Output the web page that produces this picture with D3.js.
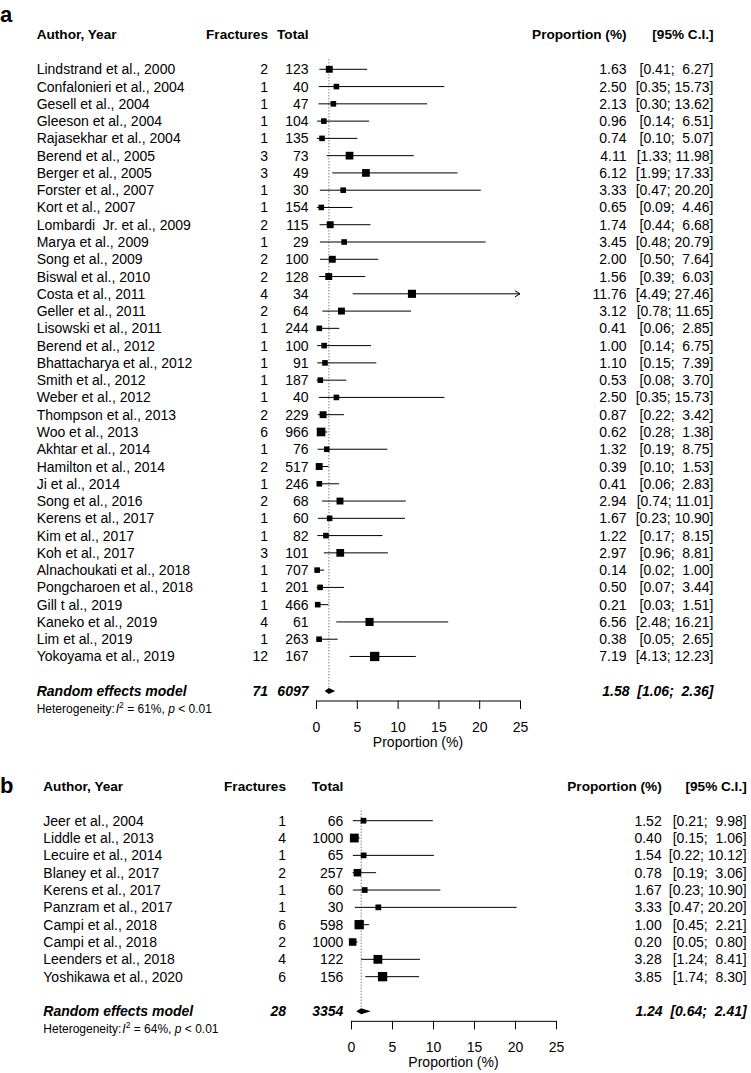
<!DOCTYPE html>
<html>
<head>
<meta charset="utf-8">
<script src="https://cdn.jsdelivr.net/npm/d3@7"></script>
<style>
  html, body { margin: 0; padding: 0; background: #fff; }
  svg { display: block; }
  text { font-family: "Liberation Sans", Arial, Helvetica, sans-serif; fill: #000; }
  .pre { white-space: pre; }
</style>
</head>
<body>
<svg id="chart" width="751" height="1073"></svg>
<script>
// ---------------- Panel a data ----------------
const studiesA = [
  "Lindstrand et al., 2000", "Confalonieri et al., 2004", "Gesell et al., 2004", "Gleeson et al., 2004",
  "Rajasekhar et al., 2004", "Berend et al., 2005", "Berger et al., 2005", "Forster et al., 2007",
  "Kort et al., 2007", "Lombardi  Jr. et al., 2009", "Marya et al., 2009", "Song et al., 2009",
  "Biswal et al., 2010", "Costa et al., 2011", "Geller et al., 2011", "Lisowski et al., 2011",
  "Berend et al., 2012", "Bhattacharya et al., 2012", "Smith et al., 2012", "Weber et al., 2012",
  "Thompson et al., 2013", "Woo et al., 2013", "Akhtar et al., 2014", "Hamilton et al., 2014",
  "Ji et al., 2014", "Song et al., 2016", "Kerens et al., 2017", "Kim et al., 2017",
  "Koh et al., 2017", "Alnachoukati et al., 2018", "Pongcharoen et al., 2018", "Gill t al., 2019",
  "Kaneko et al., 2019", "Lim et al., 2019", "Yokoyama et al., 2019"
];
const eventsA = [2,1,1,1,1,3,3,1,1,2,1,2,2,4,2,1,1,1,1,1,2,6,1,2,1,2,1,1,3,1,1,1,4,1,12];
const totalsA = [123,40,47,104,135,73,49,30,154,115,29,100,128,34,64,244,100,91,187,40,229,966,76,517,246,68,60,82,101,707,201,466,61,263,167];
const propA  = [1.63,2.50,2.13,0.96,0.74,4.11,6.12,3.33,0.65,1.74,3.45,2.00,1.56,11.76,3.12,0.41,1.00,1.10,0.53,2.50,0.87,0.62,1.32,0.39,0.41,2.94,1.67,1.22,2.97,0.14,0.50,0.21,6.56,0.38,7.19];
const lowerA = [0.41,0.35,0.30,0.14,0.10,1.33,1.99,0.47,0.09,0.44,0.48,0.50,0.39,4.49,0.78,0.06,0.14,0.15,0.08,0.35,0.22,0.28,0.19,0.10,0.06,0.74,0.23,0.17,0.96,0.02,0.07,0.03,2.48,0.05,4.13];
const upperA = [6.27,15.73,13.62,6.51,5.07,11.98,17.33,20.20,4.46,6.68,20.79,7.64,6.03,27.46,11.65,2.85,6.75,7.39,3.70,15.73,3.42,1.38,8.75,1.53,2.83,11.01,10.90,8.15,8.81,1.00,3.44,1.51,16.21,2.65,12.23];
// study weights (%) estimated from square sizes
const weightsA = [3.2,2.1,2.1,2.1,2.1,4.0,4.0,2.1,2.1,3.2,2.1,3.2,3.2,4.4,3.2,2.1,2.1,2.1,2.1,2.1,3.2,5.0,2.1,3.2,2.1,3.2,2.1,2.1,4.0,2.1,2.1,2.1,4.4,2.1,5.8];
const pooledA = [71, 6097, 1.58, 1.06, 2.36];   // events, total, estimate, lower, upper
const hetA = [61, "< 0.01"];                     // I^2 (%), p

// ---------------- Panel b data ----------------
const studiesB = [
  "Jeer et al., 2004", "Liddle et al., 2013", "Lecuire et al., 2014", "Blaney et al., 2017",
  "Kerens et al., 2017", "Panzram et al., 2017", "Campi et al., 2018", "Campi et al., 2018",
  "Leenders et al., 2018", "Yoshikawa et al., 2020"
];
const eventsB = [1,4,1,2,1,1,6,2,4,6];
const totalsB = [66,1000,65,257,60,30,598,1000,122,156];
const propB  = [1.52,0.40,1.54,0.78,1.67,3.33,1.00,0.20,3.28,3.85];
const lowerB = [0.21,0.15,0.22,0.19,0.23,0.47,0.45,0.05,1.24,1.74];
const upperB = [9.98,1.06,10.12,3.06,10.90,20.20,2.21,0.80,8.41,8.30];
const weightsB = [5.5,13.0,5.5,9.5,5.5,5.5,14.5,9.5,13.0,14.5];
const pooledB = [28, 3354, 1.24, 0.64, 2.41];
const hetB = [64, "< 0.01"];

const axisTicks = [0, 5, 10, 15, 20, 25];
const axisTitle = "Proportion (%)";
const headers = ["Author, Year", "Fractures", "Total", "Proportion (%)", "[95% C.I.]"];

// ---------------- drawing ----------------
const svg = d3.select("#chart");

function fmt(v) { return v.toFixed(2); }
function ciText(lo, hi) {
  const h = fmt(hi);
  return "[" + fmt(lo) + "; " + (h.length < 5 ? " " : "") + h + "]";
}

function drawPanel(p) {
  const g = svg.append("g");
  const x = d3.scaleLinear().domain([axisTicks[0], axisTicks[axisTicks.length - 1]]).range([p.x0, p.x1]);
  const n = p.studies.length;
  const rowY = i => p.row0 + i * p.step;
  const sumY = rowY(n + 1);
  const maxW = d3.max(p.weights);
  const maxSide = 9.3;

  // panel tag
  g.append("text").attr("x", 0).attr("y", p.tagY)
    .style("font-size", "22px").style("font-weight", "bold").text(p.tag);

  // headers
  const hs = g.append("g").style("font-size", "13.6px").style("font-weight", "bold");
  hs.append("text").attr("x", p.colStudy).attr("y", p.headerY).text(headers[0]);
  hs.append("text").attr("x", p.colFrac).attr("y", p.headerY).attr("text-anchor", "end").text(headers[1]);
  hs.append("text").attr("x", p.colTot).attr("y", p.headerY).attr("text-anchor", "end").text(headers[2]);
  hs.append("text").attr("x", p.colProp).attr("y", p.headerY).attr("text-anchor", "end").text(headers[3]);
  hs.append("text").attr("x", p.colCI).attr("y", p.headerY).attr("text-anchor", "end").text(headers[4]);

  // reference dotted line at pooled estimate
  g.append("line")
    .attr("x1", x(p.pooled[2])).attr("x2", x(p.pooled[2]))
    .attr("y1", p.row0 - 10).attr("y2", sumY - 3)
    .attr("stroke", "#444").attr("stroke-width", 1).attr("stroke-dasharray", "1,2");

  // rows
  const idx = d3.range(n);
  const rows = g.append("g").style("font-size", "14px");
  rows.selectAll(".lab").data(idx).join("text").attr("class", "pre")
    .attr("x", p.colStudy).attr("y", i => rowY(i) + 5).text(i => p.studies[i]);
  rows.selectAll(".ev").data(idx).join("text")
    .attr("x", p.colFrac).attr("y", i => rowY(i) + 5).attr("text-anchor", "end").text(i => p.events[i]);
  rows.selectAll(".tot").data(idx).join("text")
    .attr("x", p.colTot).attr("y", i => rowY(i) + 5).attr("text-anchor", "end").text(i => p.totals[i]);
  rows.selectAll(".pr").data(idx).join("text")
    .attr("x", p.colProp).attr("y", i => rowY(i) + 5).attr("text-anchor", "end").text(i => fmt(p.prop[i]));
  rows.selectAll(".ci").data(idx).join("text").attr("class", "pre")
    .attr("x", p.colCI).attr("y", i => rowY(i) + 5).attr("text-anchor", "end")
    .text(i => ciText(p.lower[i], p.upper[i]));

  // CI lines
  const xMax = axisTicks[axisTicks.length - 1];
  g.append("g").selectAll("line").data(idx).join("line")
    .attr("x1", i => x(p.lower[i])).attr("x2", i => x(Math.min(p.upper[i], xMax)))
    .attr("y1", i => rowY(i)).attr("y2", i => rowY(i))
    .attr("stroke", "#000").attr("stroke-width", 1);
  // arrows where CI exceeds axis
  g.append("g").selectAll("path").data(idx.filter(i => p.upper[i] > xMax)).join("path")
    .attr("d", i => `M${x(xMax) - 5},${rowY(i) - 3}L${x(xMax)},${rowY(i)}L${x(xMax) - 5},${rowY(i) + 3}`)
    .attr("fill", "none").attr("stroke", "#000").attr("stroke-width", 1);
  // squares
  g.append("g").selectAll("rect").data(idx).join("rect")
    .attr("x", i => x(p.prop[i]) - maxSide * Math.sqrt(p.weights[i] / maxW) / 2)
    .attr("y", i => rowY(i) - maxSide * Math.sqrt(p.weights[i] / maxW) / 2)
    .attr("width", i => maxSide * Math.sqrt(p.weights[i] / maxW))
    .attr("height", i => maxSide * Math.sqrt(p.weights[i] / maxW))
    .attr("fill", "#000");

  // pooled row
  const s = g.append("g").style("font-size", "14px").style("font-weight", "bold").style("font-style", "italic");
  s.append("text").attr("x", p.colStudy).attr("y", sumY + 5).text("Random effects model");
  s.append("text").attr("x", p.colFrac).attr("y", sumY + 5).attr("text-anchor", "end").text(p.pooled[0]);
  s.append("text").attr("x", p.colTot).attr("y", sumY + 5).attr("text-anchor", "end").text(p.pooled[1]);
  s.append("text").attr("class", "pre").attr("x", p.colCI).attr("y", sumY + 5).attr("text-anchor", "end")
    .text(fmt(p.pooled[2]) + "  " + ciText(p.pooled[3], p.pooled[4]));
  g.append("path")
    .attr("d", `M${x(p.pooled[3])},${sumY}L${x(p.pooled[2])},${sumY - 3}L${x(p.pooled[4])},${sumY}L${x(p.pooled[2])},${sumY + 3}Z`)
    .attr("fill", "#000");

  // heterogeneity
  const ht = g.append("text").attr("x", p.colStudy).attr("y", sumY + 21.5).style("font-size", "12px");
  ht.append("tspan").text("Heterogeneity:");
  ht.append("tspan").attr("dx", 1).style("font-style", "italic").text("I");
  ht.append("tspan").attr("dy", -5).style("font-size", "8.5px").text("2");
  ht.append("tspan").attr("dy", 5).text(" = " + p.het[0] + "%, ");
  ht.append("tspan").style("font-style", "italic").text("p");
  ht.append("tspan").text(" " + p.het[1]);

  // axis
  const axY = sumY + 9.5;
  const ax = g.append("g").attr("transform", `translate(0,${axY})`)
    .call(d3.axisBottom(x).tickValues(axisTicks).tickSize(8.5).tickSizeOuter(0).tickFormat(d3.format("d")));
  ax.select(".domain").attr("stroke", "#000");
  ax.selectAll(".tick line").attr("stroke", "#000");
  ax.selectAll(".tick text").attr("y", 31).attr("dy", 0)
    .style("font-size", "14px").style("font-family", "'Liberation Sans', Arial, sans-serif").attr("fill", "#000");
  g.append("text").attr("x", x(12.5)).attr("y", axY + 46.5).attr("text-anchor", "middle")
    .style("font-size", "14px").text(axisTitle);
}

drawPanel({
  tag: "a", tagY: 21.5, headerY: 39.3, row0: 69.3, step: 17.27,
  x0: 316, x1: 520, colStudy: 36.7, colFrac: 268, colTot: 308.5, colProp: 626.5, colCI: 713.5,
  studies: studiesA, events: eventsA, totals: totalsA, prop: propA, lower: lowerA, upper: upperA,
  weights: weightsA, pooled: pooledA, het: hetA
});
drawPanel({
  tag: "b", tagY: 793, headerY: 790.7, row0: 820.7, step: 17.33,
  x0: 351, x1: 556, colStudy: 43.3, colFrac: 286, colTot: 343.3, colProp: 661.7, colCI: 746.7,
  studies: studiesB, events: eventsB, totals: totalsB, prop: propB, lower: lowerB, upper: upperB,
  weights: weightsB, pooled: pooledB, het: hetB
});
</script>
</body>
</html>
